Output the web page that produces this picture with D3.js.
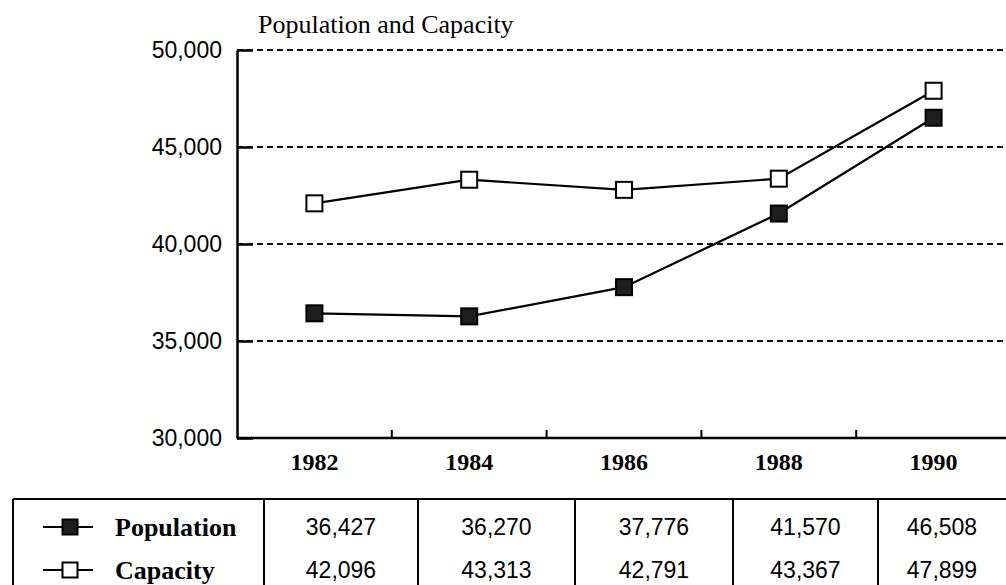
<!DOCTYPE html>
<html>
<head>
<meta charset="utf-8">
<script src="https://cdn.jsdelivr.net/npm/d3@7"></script>
<style>
  html, body { margin: 0; padding: 0; background: #fff; }
  svg { display: block; }
</style>
</head>
<body>
<svg id="chart" width="1006" height="585"></svg>
<script>
// Inmate population vs. rated capacity, by year
const years = [1982, 1984, 1986, 1988, 1990];
const population = [36427, 36270, 37776, 41570, 46508];
const capacity = [42096, 43313, 42791, 43367, 47899];
const yTickValues = [30000, 35000, 40000, 45000, 50000];
const seriesNames = ["Population", "Capacity"];

const svg = d3.select("#chart");
const serif = "'Liberation Serif', 'Times New Roman', serif";
const sans = "'Liberation Sans', Arial, sans-serif";

const plot = { left: 237, right: 1011, top: 50, bottom: 438 };
const x = d3.scaleBand().domain(years).range([plot.left, plot.right]);
const y = d3.scaleLinear().domain([30000, 50000]).range([plot.bottom, plot.top]);
const cx = d => x(d) + x.bandwidth() / 2;

// title
svg.append("text")
  .attr("x", 258).attr("y", 33)
  .attr("font-family", serif).attr("font-size", 26)
  .text("Population and Capacity");

// dashed gridlines
svg.append("g")
  .selectAll("line")
  .data(yTickValues.filter(v => v > 30000))
  .join("line")
  .attr("x1", plot.left).attr("x2", 1006)
  .attr("y1", d => y(d)).attr("y2", d => y(d))
  .attr("stroke", "#111").attr("stroke-width", 2)
  .attr("stroke-dasharray", "6,4");

// y axis with short inward ticks
const yAxis = svg.append("g")
  .attr("transform", `translate(${plot.left},0)`)
  .call(d3.axisLeft(y).tickValues(yTickValues).tickFormat(d3.format(","))
    .tickSizeInner(-16).tickSizeOuter(0).tickPadding(15));
yAxis.select(".domain").attr("stroke", "#000").attr("stroke-width", 2.5);
yAxis.selectAll(".tick line").attr("stroke", "#000").attr("stroke-width", 2.5);
yAxis.selectAll(".tick text")
  .attr("font-family", sans).attr("font-size", 23).attr("fill", "#000");

// x axis: baseline, labels at band centres, ticks at band edges
const xAxis = svg.append("g")
  .attr("transform", `translate(0,${plot.bottom})`)
  .call(d3.axisBottom(x).tickSize(0).tickPadding(15));
xAxis.select(".domain").remove();
xAxis.selectAll(".tick text")
  .attr("font-family", serif).attr("font-weight", "bold")
  .attr("font-size", 24).attr("fill", "#000");

svg.append("line")
  .attr("x1", plot.left).attr("x2", 1006)
  .attr("y1", plot.bottom).attr("y2", plot.bottom)
  .attr("stroke", "#000").attr("stroke-width", 2.5);

svg.append("g")
  .selectAll("line")
  .data(years.slice(1))
  .join("line")
  .attr("x1", d => x(d)).attr("x2", d => x(d))
  .attr("y1", plot.bottom).attr("y2", plot.bottom - 8)
  .attr("stroke", "#000").attr("stroke-width", 2);

// series lines and markers
const line = d3.line().x((d, i) => cx(years[i])).y(d => y(d));
const series = [
  { name: seriesNames[0], values: population, fill: "#1e1e1e" },
  { name: seriesNames[1], values: capacity, fill: "#fff" }
];
const mk = 16;

series.forEach(s => {
  svg.append("path")
    .datum(s.values)
    .attr("d", line)
    .attr("fill", "none").attr("stroke", "#000").attr("stroke-width", 2.2);
  svg.append("g")
    .selectAll("rect")
    .data(s.values)
    .join("rect")
    .attr("x", (d, i) => cx(years[i]) - mk / 2)
    .attr("y", d => y(d) - mk / 2)
    .attr("width", mk).attr("height", mk)
    .attr("fill", s.fill).attr("stroke", "#000").attr("stroke-width", 2);
});

// data table below the chart
const table = { left: 13, top: 499, bottom: 586 };
const colEdges = [264, 418, 575, 733, 878, 1006];
const rowY = [527, 570];

svg.append("line")
  .attr("x1", table.left).attr("x2", 1006)
  .attr("y1", table.top).attr("y2", table.top)
  .attr("stroke", "#000").attr("stroke-width", 2);

svg.append("g")
  .selectAll("line")
  .data([table.left].concat(colEdges.slice(0, -1)))
  .join("line")
  .attr("x1", d => d).attr("x2", d => d)
  .attr("y1", table.top).attr("y2", table.bottom)
  .attr("stroke", "#000").attr("stroke-width", 2);

series.forEach((s, r) => {
  const ry = rowY[r];
  // legend glyph
  svg.append("line")
    .attr("x1", 43).attr("x2", 93).attr("y1", ry).attr("y2", ry)
    .attr("stroke", "#000").attr("stroke-width", 2);
  svg.append("rect")
    .attr("x", 70 - 7.5).attr("y", ry - 7.5)
    .attr("width", 15).attr("height", 15)
    .attr("fill", s.fill).attr("stroke", "#000").attr("stroke-width", 2);
  svg.append("text")
    .attr("x", 115).attr("y", ry).attr("dy", "0.35em")
    .attr("font-family", serif).attr("font-weight", "bold").attr("font-size", 26)
    .text(s.name);
  // values
  svg.append("g")
    .selectAll("text")
    .data(s.values)
    .join("text")
    .attr("x", (d, i) => (colEdges[i] + colEdges[i + 1]) / 2)
    .attr("y", ry).attr("dy", "0.35em")
    .attr("text-anchor", "middle")
    .attr("font-family", sans).attr("font-size", 23)
    .text(d3.format(","));
});
</script>
</body>
</html>
